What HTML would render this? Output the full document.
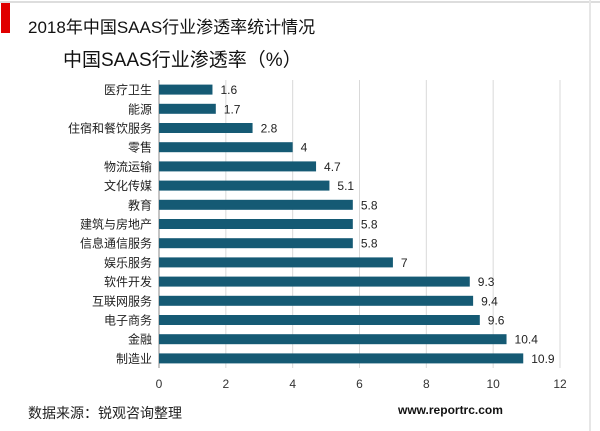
<!DOCTYPE html>
<html><head><meta charset="utf-8"><style>
body{margin:0;background:#fff;}
svg{display:block;font-family:"Liberation Sans","Noto Sans CJK SC",sans-serif;}
</style></head><body>
<svg id="c" width="600" height="431">
<rect x="0" y="0" width="600" height="431" fill="#fff"/>
<line x1="0" y1="2" x2="600" y2="2" stroke="#ddd" stroke-width="2"/>
<line x1="590" y1="0" x2="590" y2="431" stroke="#e6e6e6" stroke-width="2"/>
<rect x="1" y="3" width="9" height="30" fill="#e00000"/>
<text x="28" y="33" font-size="17" fill="#111">2018年中国SAAS行业渗透率统计情况</text>
<text x="63" y="66" font-size="19" fill="#111">中国SAAS行业渗透率（%）</text>
<g id="plot"></g>
<text x="28" y="418" font-size="14" fill="#222">数据来源：锐观咨询整理</text>
<text x="398" y="414" font-size="12" font-weight="bold" fill="#111">www.reportrc.com</text>
</svg>
<script>
const categories=["医疗卫生","能源","住宿和餐饮服务","零售","物流运输","文化传媒","教育","建筑与房地产","信息通信服务","娱乐服务","软件开发","互联网服务","电子商务","金融","制造业"];
const values=[1.6,1.7,2.8,4,4.7,5.1,5.8,5.8,5.8,7,9.3,9.4,9.6,10.4,10.9];
const ticks=[0,2,4,6,8,10,12];
const X0=159,X1=560,PT=80,PB=368,NS="http://www.w3.org/2000/svg";
const xs=v=>X0+v*(X1-X0)/12;
const band=(PB-PT)/categories.length;
const ys=i=>PT+i*band;
const g=document.getElementById('plot');
function mk(t,a){const e=document.createElementNS(NS,t);for(const k in a)e.setAttribute(k,a[k]);g.appendChild(e);return e;}
ticks.forEach(t=>{
  if(t>0){const l=mk('line',{x1:xs(t),x2:xs(t),y1:PT,y2:PB,stroke:'#d9d9d9'});
  
  }
  const tx=mk('text',{x:xs(t),y:PB+20,'font-size':12,'text-anchor':'middle',fill:'#333'});
  tx.textContent=t;
  
  
});
const ax=mk('line',{x1:X0,x2:X0,y1:PT,y2:PB,stroke:'#888'});


categories.forEach((c,i)=>{
  const yc=ys(i)+band/2;
  const r=mk('rect',{x:X0,y:yc-5,width:xs(values[i])-X0,height:10,fill:'#155a74'});
  
  
  const l=mk('text',{x:X0-7,y:yc+4.5,'font-size':12,'text-anchor':'end',fill:'#222'});
  l.textContent=c;
  
  
  const v=mk('text',{x:xs(values[i])+8,y:yc+4.5,'font-size':12,fill:'#222'});
  v.textContent=values[i];
  
  
});
</script>
</body></html>
